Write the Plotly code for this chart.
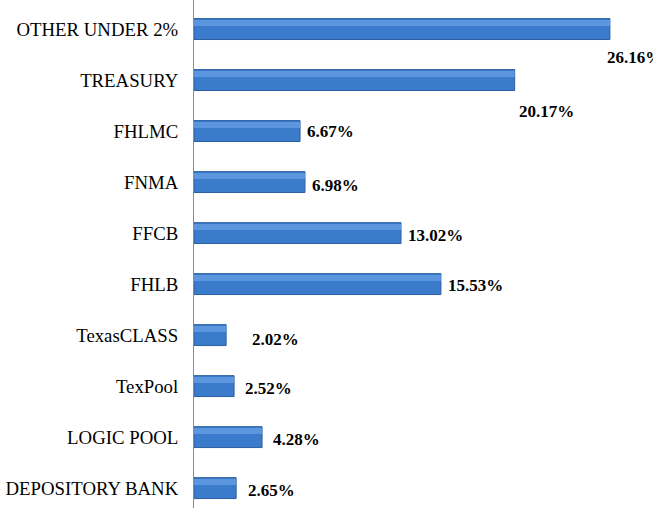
import plotly.graph_objects as go

# categories listed bottom to top
categories = ['DEPOSITORY BANK', 'LOGIC POOL', 'TexPool', 'TexasCLASS', 'FHLB',
              'FFCB', 'FNMA', 'FHLMC', 'TREASURY', 'OTHER UNDER 2%']
percentages = [2.65, 4.28, 2.52, 2.02, 15.53, 13.02, 6.98, 6.67, 20.17, 26.16]

# label offsets in pixels (x to the right of bar end, y downward)
label_dx = [10, 9, 9, 24, 5, 5, 5, 5, 2, -5]
label_dy = [2, 2, 2, 4, 1, 2, 3, 0, 31, 28]

fig = go.Figure()

# main bar
fig.add_trace(go.Bar(
    y=categories,
    x=percentages,
    orientation='h',
    width=0.41,
    marker=dict(color='#3a7bcc', line=dict(color='#2b5f9f', width=1)),
    hoverinfo='skip',
))
# lighter upper band to give the bevelled look
fig.add_trace(go.Bar(
    y=categories,
    x=percentages,
    orientation='h',
    width=0.12,
    offset=0.06,
    marker=dict(color='#5b96de', line=dict(width=0)),
    hoverinfo='skip',
))

for cat, val, dx, dy in zip(categories, percentages, label_dx, label_dy):
    fig.add_annotation(
        x=val, y=cat,
        text=f'<b>{val:.2f}%</b>',
        showarrow=False,
        xanchor='left',
        yanchor='middle',
        xshift=dx,
        yshift=-dy,
        font=dict(family='Liberation Serif', size=17, color='black'),
    )

fig.update_layout(
    width=653,
    height=508,
    barmode='overlay',
    showlegend=False,
    plot_bgcolor='white',
    paper_bgcolor='white',
    margin=dict(l=194, r=0, t=0, b=0, autoexpand=False),
    font=dict(family='Liberation Serif', size=18.8, color='black'),
    xaxis=dict(range=[0, 28.87], visible=False),
    yaxis=dict(
        range=[-0.39, 9.57],
        showline=True,
        linecolor='#8c8c8c',
        linewidth=1,
        showgrid=False,
        ticks='',
        ticklabelstandoff=11,
        automargin=False,
    ),
)

# drop the default 8px page margin so the figure fills the window
fig.write_html(
    "out.html",
    config={'displayModeBar': False},
    post_script="document.body.style.margin='0';",
)
